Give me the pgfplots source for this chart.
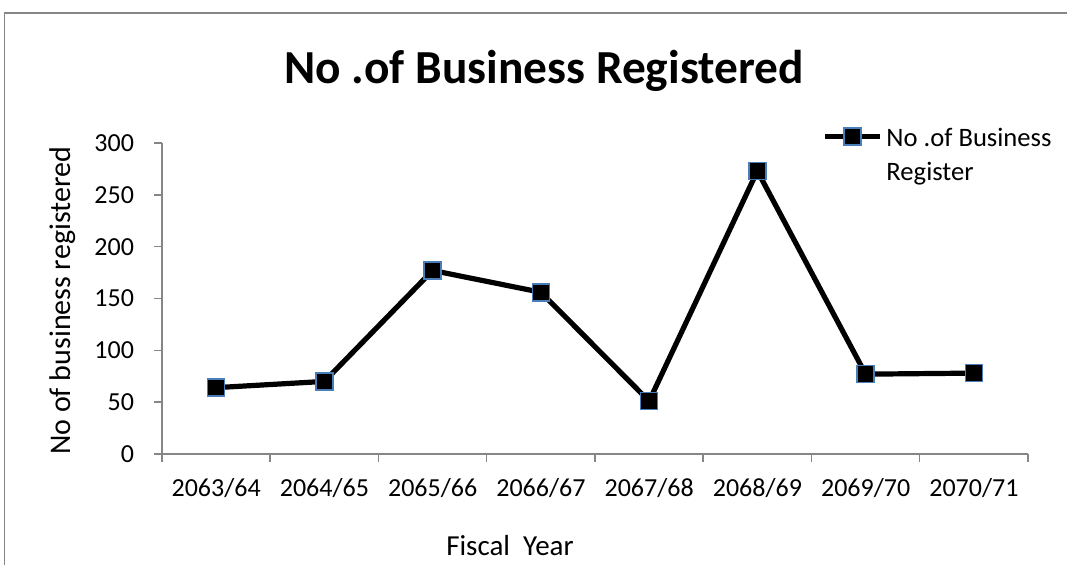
\documentclass[border=0pt]{standalone}
\usepackage{pgfplots}
\pgfplotsset{compat=1.18}
\usepackage{fontspec}
\setmainfont{Carlito}
\definecolor{axisgray}{HTML}{868686}
\definecolor{markblue}{HTML}{4A7EBB}
\begin{document}
\begin{tikzpicture}[x=1pt,y=1pt]
\path[use as bounding box] (0,0) rectangle (533.5,282.5);
% chart frame (only left and top edges are inside the picture)
\draw[axisgray,line width=0.75pt] (2.25,-2) -- (2.25,276) -- (540,276);
\begin{axis}[
  at={(81pt,55.5pt)}, anchor=south west,
  scale only axis, width=433pt, height=155.5pt,
  xmin=-0.5, xmax=7.5, ymin=0, ymax=300,
  axis x line*=bottom, axis y line*=left,
  axis line style={axisgray, line width=0.75pt},
  tick style={axisgray, line width=0.75pt},
  tick align=outside, major tick length=4pt,
  xtick={-0.5,0.5,...,7.5}, xticklabels={},
  extra x ticks={0,1,2,3,4,5,6,7},
  extra x tick labels={2063/64,2064/65,2065/66,2066/67,2067/68,2068/69,2069/70,2070/71},
  extra x tick style={major tick length=0pt},
  ytick={0,50,...,300},
  /pgf/number format/assume math mode=true,
  ticklabel style={font=\fontsize{13}{15}\selectfont, text=black},
  xticklabel style={yshift=-8.5pt},
  yticklabel style={xshift=-6.5pt},
  legend cell align=left,
  legend style={draw=none, fill=none, at={(0.762,1.078)}, anchor=north west,
    inner sep=0pt, font=\fontsize{13.3}{17}\selectfont},
  legend image code/.code={
    \draw[#1, mark repeat=2, mark phase=2] plot coordinates {(0pt,0pt) (13.75pt,0pt) (27.5pt,0pt)};},
]
\addplot[black, line width=2.6pt, mark=square*, mark size=4.25pt,
  mark options={fill=black, draw=markblue, line width=0.8pt}]
  coordinates {(0,64) (1,70) (2,177) (3,156) (4,51) (5,273) (6,77) (7,78)};
\addlegendentry{\begin{tabular}[t]{@{}l@{}}No .of Business\\Register\end{tabular}}
\end{axis}
\node[font=\bfseries\fontsize{23.7}{28}\selectfont] at (272,247) {No .of Business Registered};
\node[rotate=90, font=\fontsize{15}{18}\selectfont] at (31.5,132) {No of business registered};
\node[font=\fontsize{14.5}{17}\selectfont] at (255,9.5) {Fiscal\ \ Year};
\end{tikzpicture}
\end{document}
